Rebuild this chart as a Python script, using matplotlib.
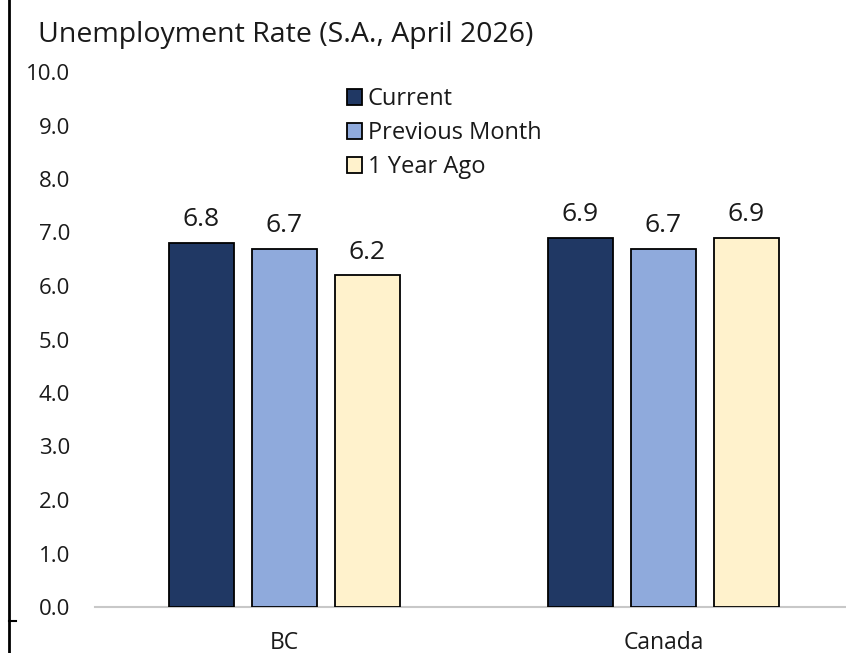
import matplotlib
matplotlib.use("Agg")
import matplotlib.pyplot as plt
from matplotlib.lines import Line2D
import numpy as np

categories = ["BC", "Canada"]
series_names = ["Current", "Previous Month", "1 Year Ago"]
current = [6.8, 6.9]
previous = [6.7, 6.7]
year_ago = [6.2, 6.9]
colors = ["#203864", "#8FAADC", "#FFF2CC"]
yticks = [0, 1, 2, 3, 4, 5, 6, 7, 8, 9, 10]

plt.rcParams['font.family'] = ['Open Sans', 'DejaVu Sans']

W, H = 846, 653
AX_L, AX_W = 95, 758
fig = plt.figure(figsize=(W/100, H/100), dpi=100)
ax = fig.add_axes([AX_L/W, 1-607/H, AX_W/W, (607-72)/H])

x = np.arange(len(categories))
width = 0.174
offset = 0.219
series = [current, previous, year_ago]
for i, (vals, name, c) in enumerate(zip(series, series_names, colors)):
    bars = ax.bar(x + (i-1)*offset, vals, width, color=c, edgecolor="black",
                  linewidth=1.3, label=name, zorder=3)
    for b, v in zip(bars, vals):
        ax.text(b.get_x()+b.get_width()/2, v + 0.2, f"{v:.1f}", ha="center",
                va="bottom", fontsize=19, color="#1a1a1a")

ax.set_xlim(-0.5, 1.5)
ax.set_ylim(0, 10)
ax.set_yticks(yticks)
ax.set_yticklabels([f"{t:.1f}" for t in yticks], fontsize=16, color="#1a1a1a")
ax.set_xticks(x)
ax.set_xticklabels(categories, fontsize=16.5, color="#1a1a1a")
ax.tick_params(axis='both', length=0)
ax.tick_params(axis='x', pad=17)
ax.tick_params(axis='y', pad=18)
for s in ["top", "right", "left"]:
    ax.spines[s].set_visible(False)
ax.spines["bottom"].set_color("#c8c8c8")
ax.spines["bottom"].set_linewidth(1.5)

leg = ax.legend(loc="upper left", bbox_to_anchor=((338-AX_L)/AX_W, 1 - (78-72)/535),
                frameon=False, fontsize=17, handlelength=0.62, handleheight=0.62,
                handletextpad=0.25, labelspacing=0.42, borderaxespad=0)
for t in leg.get_texts():
    t.set_color("#1a1a1a")

fig.text(38/W, 1-35/H, "Unemployment Rate (S.A., April 2026)", fontsize=20.5,
         va="center", ha="left", color="#1a1a1a")

# left border line and small tick
fig.add_artist(Line2D([9/W, 9/W], [0, 1], color="black", linewidth=2, transform=fig.transFigure))
fig.add_artist(Line2D([9/W, 16/W], [1-621/H, 1-621/H], color="black", linewidth=1.5, transform=fig.transFigure))

fig.savefig("out.png", dpi=100)
